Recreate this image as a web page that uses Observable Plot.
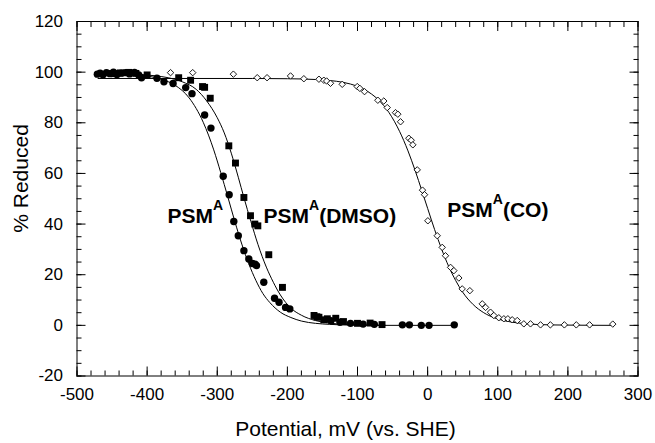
<!DOCTYPE html>
<html>
<head>
<meta charset="utf-8">
<script src="https://cdn.jsdelivr.net/npm/d3@7"></script>
<script src="https://cdn.jsdelivr.net/npm/@observablehq/plot@0.6"></script>
<style>
  html, body { margin: 0; padding: 0; background: white; }
</style>
</head>
<body>
<div id="chart"></div>
<script>
// ---- Data ----
// PSM^A : filled circles
const psmX = [-471,-467,-463,-458,-453,-448,-443,-437,-431,-425,-418,-412,-408,-386,-376,-363,-345,-336,-318,-309,
  -291.5,-283,-276.4,-270,-262,-255,-250,-246,-244,-233.6,-218.3,-211.9,-202.6,-196.5,
  -138,-125,-110,-92,-76,-36,-26,-9,2,38];
const psmY = [99.2,99.6,99.0,99.8,99.4,100.0,99.1,99.6,99.8,99.3,99.9,98.9,97.8,97.6,96.2,95.5,93.9,91.5,83.1,77.9,
  58.9,51.6,41.0,35.4,29.5,26.2,24.4,24.2,23.6,17.0,10.7,9.1,7.1,6.5,
  1.8,1.2,0.8,0.5,0.4,0.2,0.2,0,0,0.2];

// PSM^A(DMSO) : filled squares
const dmsoX = [-447,-438,-426,-416,-400,-355,-338,-321,-318,-310,-283.5,-274,-262,-252.6,-246.4,-242.1,-226.5,-207,
  -162,-158,-155,-148,-143,-131,-120,-100,-82,-65];
const dmsoY = [99.4,99.7,99.9,99.5,98.9,97.8,96.8,94.3,94.0,89.7,70.9,64.1,50.5,43.3,40.0,39.3,27.9,15.0,
  3.9,3.4,3.2,2.2,2.6,2.8,1.5,0.8,0.9,0.3];

// PSM^A(CO) : open diamonds
const coX = [-366.6,-335,-277,-243,-229,-195.5,-176.5,-155,-148,-144,-138.5,-121.8,-100.4,-96.7,-90,-71,-62.5,-57.6,
  -45.8,-42.5,-38.6,-26.8,-23.4,-21.1,-14.8,-7.3,-4.4,0.3,13.7,20.8,25.5,32.7,37.4,44.5,49.3,60.2,77.9,82.6,89.7,
  94.4,101.5,108.7,114.4,120.6,127.8,137.2,146.7,161,175,195,212,231,264];
const coY = [99.8,99.8,99.2,97.8,97.8,98.5,97.4,97.2,96.8,96.5,95.6,95.2,94.3,93.6,92.3,88.9,88.6,86.0,
  84.0,83.4,80.4,73.9,73.1,71.3,61.4,53.4,51.6,41.3,35.4,30.8,27.5,22.9,21.6,18.7,14.4,13.7,8.5,7.1,5.2,
  3.9,3.0,2.6,2.6,2.2,1.9,0.6,0.6,0.2,0.2,0.2,0.2,0.2,0.5];

// Fitted curves
const fitPsmX = [-470,-430,-400,-380,-360,-340,-320,-305,-295,-285,-275,-265,-255,-245,-235,-225,-210,-195,-180,-160,-140,-110,-60,40];
const fitPsmY = [99.5,99.3,98.5,97.2,94.8,89.8,80.2,69.3,60.3,50.8,41.1,32.1,24.3,17.8,12.6,9.0,5.2,3.1,1.7,0.8,0.4,0.1,0,0];

const fitDmsoX = [-470,-420,-390,-370,-350,-330,-315,-300,-290,-280,-270,-262,-252,-242,-230,-220,-210,-195,-180,-160,-140,-120,-100,-60];
const fitDmsoY = [99.4,99.2,98.6,97.8,96.2,93.2,88.6,82,76,68,58.5,50.5,41,32,23,17,12,6.8,4,1.9,0.9,0.4,0.2,0];

const fitCoX = [-470,-250,-200,-160,-130,-110,-90,-70,-55,-40,-28,-18,-8,0,10,20,30,40,50,65,80,95,110,130,160,200,265];
const fitCoY = [97.5,97.5,97.4,97.1,96.4,95.3,93.1,89.0,84.0,76.6,68.9,61.3,53.0,46.2,37.8,30.1,23.3,17.7,13.1,8.2,5.0,3.0,1.8,0.9,0.3,0.1,0];

// Curve labels
const labelName = ["PSM", "PSM", "PSM"];
const labelSup = ["A", "A", "A"];
const labelTail = ["", "(DMSO)", "(CO)"];
const labelX = [-371, -234, 28];
const labelY = [40.5, 40.5, 42.9];

// Axis ticks
const xMajor = [-500, -400, -300, -200, -100, 0, 100, 200, 300];
const yMajor = [-20, 0, 20, 40, 60, 80, 100, 120];
const xMinor = d3.range(-500, 301, 20);
const yMinor = d3.range(-20, 121, 5);

const xTitle = "Potential, mV (vs. SHE)";
const yTitle = "% Reduced";

// ---- Build tables ----
const zip = (xs, ys) => xs.map((x, i) => ({x, y: ys[i]}));
const psm = zip(psmX, psmY), dmso = zip(dmsoX, dmsoY), co = zip(coX, coY);
const fitPsm = zip(fitPsmX, fitPsmY), fitDmso = zip(fitDmsoX, fitDmsoY), fitCo = zip(fitCoX, fitCoY);
const labels = labelName.map((n, i) => ({name: n, sup: labelSup[i], tail: labelTail[i], x: labelX[i], y: labelY[i]}));

const fmt = d => String(d);

const chart = Plot.plot({
  width: 655,
  height: 443,
  marginLeft: 76.5,
  marginRight: 17.5,
  marginTop: 21,
  marginBottom: 67.5,
  style: {fontFamily: "'Liberation Sans', Arial, Helvetica, sans-serif", background: "white", color: "black", fontSize: "17px"},
  x: {domain: [-500, 300], label: null},
  y: {domain: [-20, 120], label: null},
  marks: [
    // inward ticks on all four sides
    Plot.axisX(xMinor, {anchor: "bottom", tickSize: -5, fill: "none", label: null}),
    Plot.axisX(xMinor, {anchor: "top", tickSize: -5, fill: "none", label: null}),
    Plot.axisX(xMajor, {anchor: "bottom", tickSize: -9, fill: "none", label: null}),
    Plot.axisX(xMajor, {anchor: "top", tickSize: -9, fill: "none", label: null}),
    Plot.axisY(yMinor, {anchor: "left", tickSize: -5, fill: "none", label: null}),
    Plot.axisY(yMinor, {anchor: "right", tickSize: -5, fill: "none", label: null}),
    Plot.axisY(yMajor, {anchor: "left", tickSize: -9, fill: "none", label: null}),
    Plot.axisY(yMajor, {anchor: "right", tickSize: -9, fill: "none", label: null}),
    // tick labels
    Plot.axisX(xMajor, {anchor: "bottom", tickSize: 0, tickPadding: 12, fontSize: 17, tickFormat: fmt, label: null}),
    Plot.axisY(yMajor, {anchor: "left", tickSize: 0, tickPadding: 14, fontSize: 17, tickFormat: fmt, label: null}),
    Plot.frame({stroke: "black", strokeWidth: 1}),
    // fitted curves
    Plot.line(fitPsm, {x: "x", y: "y", stroke: "black", strokeWidth: 1, curve: "monotone-x"}),
    Plot.line(fitDmso, {x: "x", y: "y", stroke: "black", strokeWidth: 1, curve: "monotone-x"}),
    Plot.line(fitCo, {x: "x", y: "y", stroke: "black", strokeWidth: 1, curve: "monotone-x"}),
    // data points
    Plot.dot(co, {x: "x", y: "y", symbol: "diamond2", r: 2.9, fill: "white", stroke: "black", strokeWidth: 0.9}),
    Plot.dot(dmso, {x: "x", y: "y", symbol: "square", r: 3.9, fill: "black", stroke: "none"}),
    Plot.dot(psm, {x: "x", y: "y", symbol: "circle", r: 3.7, fill: "black", stroke: "none"}),
    // curve labels
    Plot.text(labels, {x: "x", y: "y", text: "name", textAnchor: "start", lineAnchor: "bottom",
      fontSize: 21, fontWeight: "bold", fill: "black"}),
    // axis titles
    Plot.text([xTitle], {text: d => d, frameAnchor: "bottom", textAnchor: "middle", dy: 53, dx: -12, fontSize: 21, fill: "black", lineAnchor: "middle"}),
    Plot.text([yTitle], {text: d => d, frameAnchor: "middle", textAnchor: "start", rotate: -90, dx: -336, dy: 34, fontSize: 21, fill: "black", lineAnchor: "middle"})
  ]
});

// superscript "A" in curve labels
d3.select(chart).selectAll("text")
  .filter(function() { return this.textContent === "PSM" && this.parentNode.getAttribute("font-weight") === "bold"; })
  .each(function(_, j) {
    const L = labels[j];
    if (!L) return;
    const t = d3.select(this);
    t.text(null);
    t.append("tspan").text(L.name);
    t.append("tspan").attr("dy", -12.5).attr("font-size", 14).text(L.sup);
    if (L.tail) t.append("tspan").attr("dy", 12.5).attr("font-size", 21).text(L.tail);
  });

document.getElementById("chart").appendChild(chart);
</script>
</body>
</html>
